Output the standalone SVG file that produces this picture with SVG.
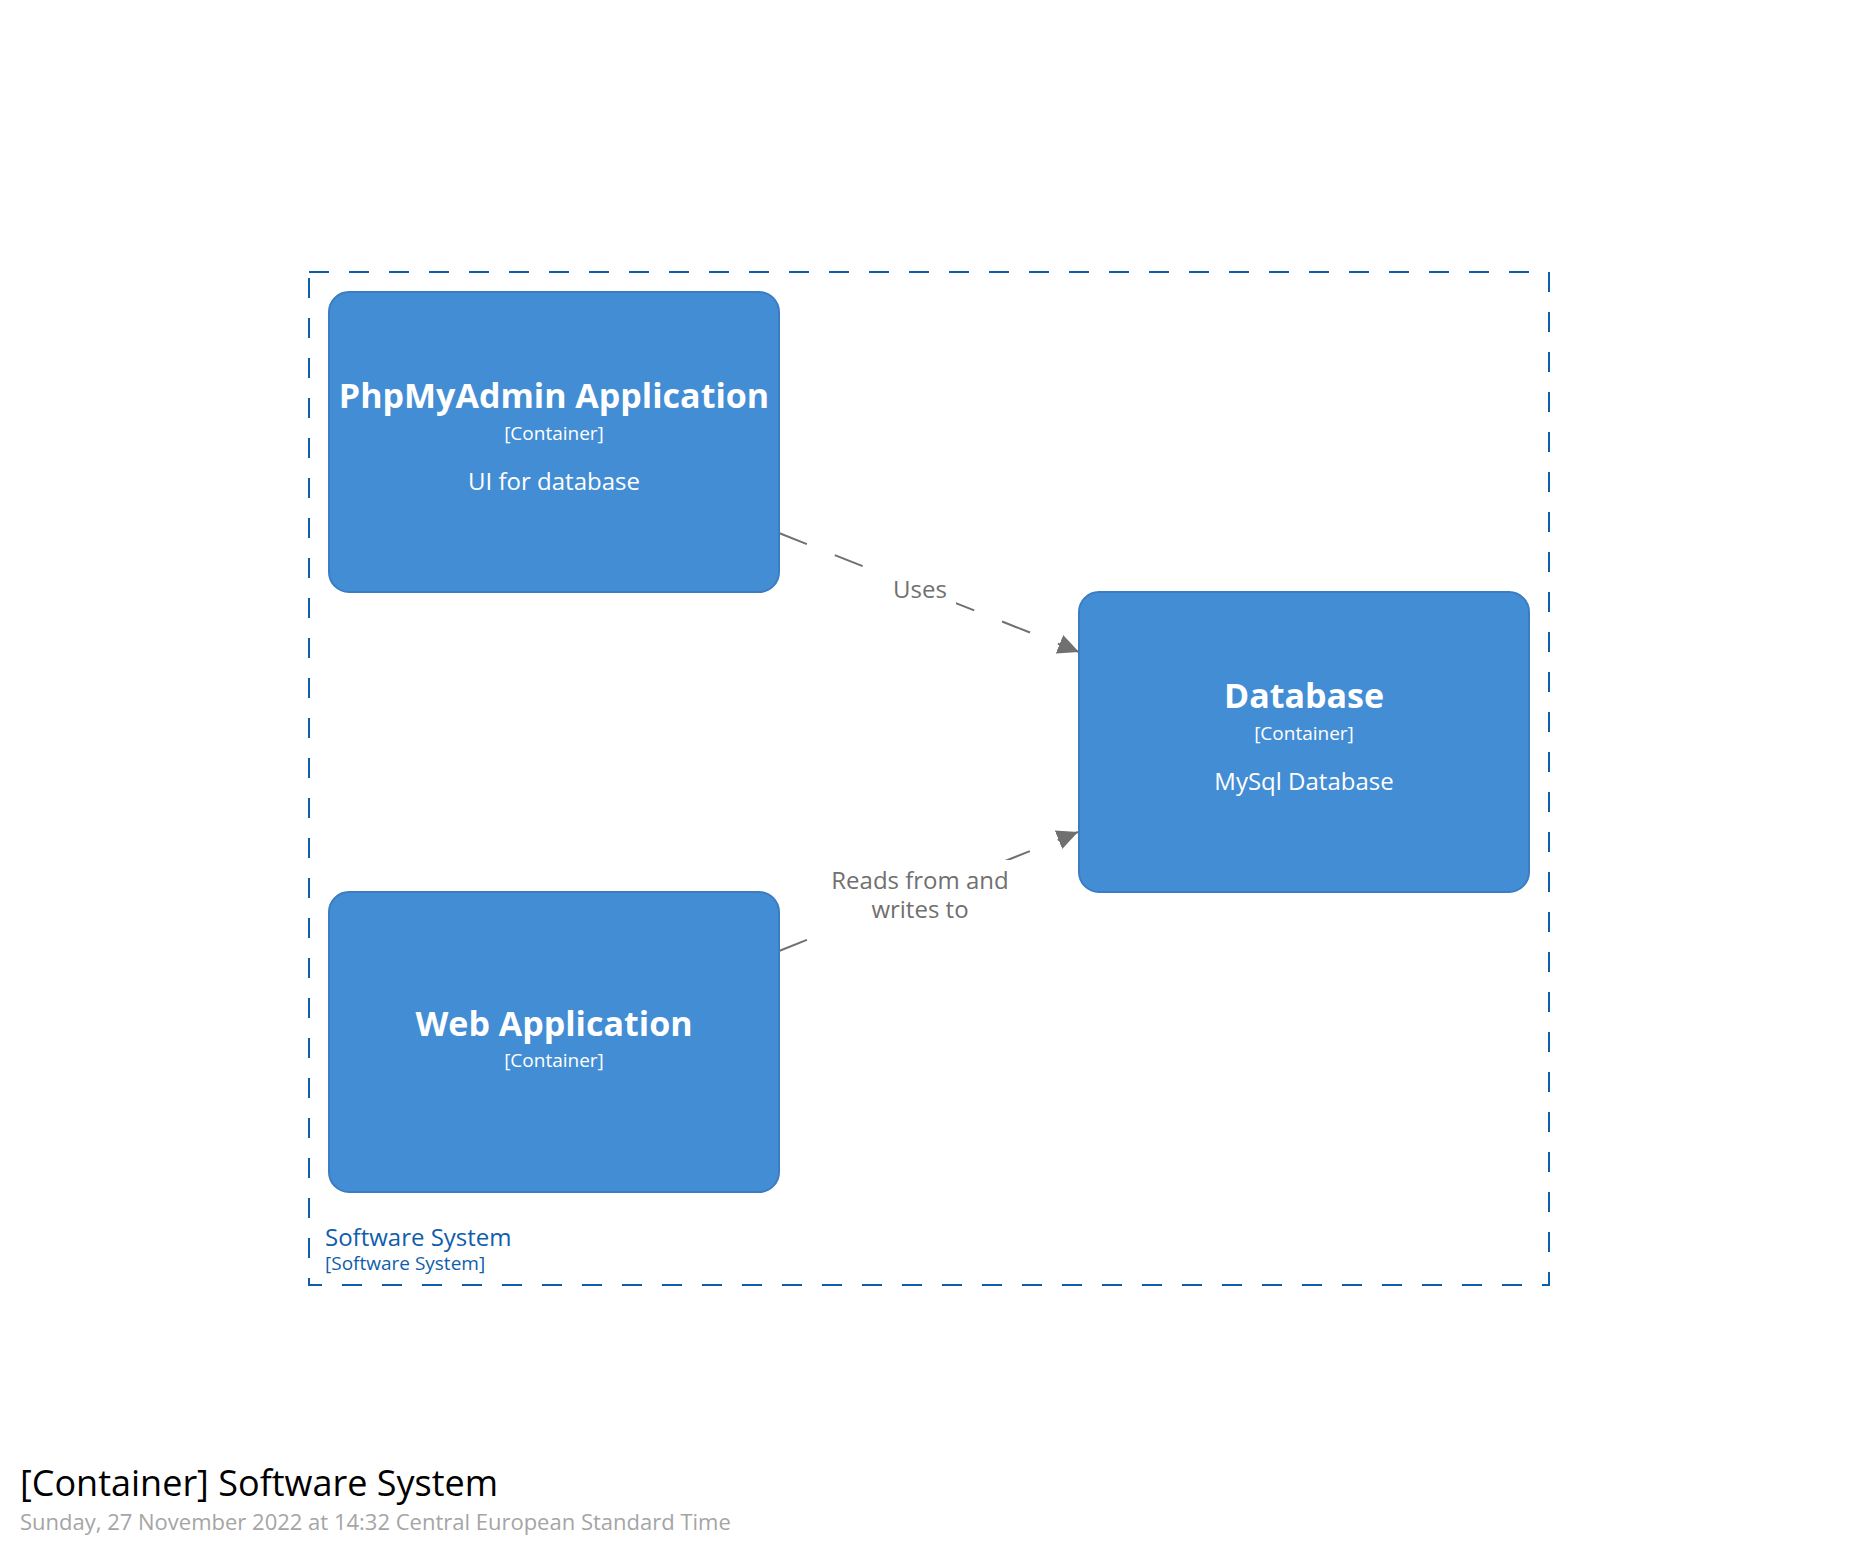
<svg xmlns="http://www.w3.org/2000/svg" width="1858" height="1558" viewBox="0 0 1858 1558">
<defs>
<style>
text{font-family:"Open Sans","DejaVu Sans",sans-serif}
.box{fill:#438dd5;stroke:#3a7dc2;stroke-width:2}
.name{font-size:34px;font-weight:bold;fill:#ffffff;text-anchor:middle}
.meta{font-size:19px;fill:#ffffff;text-anchor:middle}
.desc{font-size:24px;fill:#ffffff;text-anchor:middle}
.rel{fill:none;stroke:#707070;stroke-width:2;stroke-dasharray:30 30}
.rlabel{font-size:24px;fill:#707070;text-anchor:middle}
.bnd{fill:none;stroke:#0f5eaa;stroke-width:2;stroke-dasharray:20 20}
</style>
<marker id="arrow" markerUnits="userSpaceOnUse" markerWidth="22" markerHeight="22" refX="21" refY="10" orient="auto" viewBox="0 0 22 20">
<path d="M0,0 L21,10 L0,20 z" fill="#707070"/>
</marker>
</defs>
<rect x="0" y="0" width="1858" height="1558" fill="#ffffff"/>
<g id="boundary">
<rect class="bnd" x="309" y="272" width="1240" height="1013"/>
<text x="325" y="1246" font-size="24" fill="#0f5eaa">Software System</text>
<text x="325" y="1270" font-size="19" fill="#0f5eaa">[Software System]</text>
</g>
<g id="connectors">
<line class="rel" x1="779" y1="533" x2="1079" y2="652" marker-end="url(#arrow)"/>
<rect x="886" y="574" width="70" height="36" fill="#ffffff"/>
<text class="rlabel" x="920" y="598">Uses</text>
<line class="rel" x1="779" y1="951" x2="1078" y2="832" marker-end="url(#arrow)"/>
<rect x="826" y="860" width="191" height="71" fill="#ffffff"/>
<text class="rlabel" x="920" y="889">Reads from and<tspan x="920" dy="29">writes to</tspan></text>
</g>
<g id="phpmyadmin">
<rect class="box" x="329" y="292" width="450" height="300" rx="20" ry="20"/>
<text class="name" x="554" y="408">PhpMyAdmin Application</text>
<text class="meta" x="554" y="440">[Container]</text>
<text class="desc" x="554" y="490">UI for database</text>
</g>
<g id="database">
<rect class="box" x="1079" y="592" width="450" height="300" rx="20" ry="20"/>
<text class="name" x="1304" y="708">Database</text>
<text class="meta" x="1304" y="740">[Container]</text>
<text class="desc" x="1304" y="790">MySql Database</text>
</g>
<g id="webapp">
<rect class="box" x="329" y="892" width="450" height="300" rx="20" ry="20"/>
<text class="name" x="554" y="1036">Web Application</text>
<text class="meta" x="554" y="1067">[Container]</text>
</g>
<g id="title">
<text x="20" y="1496" font-size="36" fill="#000000">[Container] Software System</text>
<text x="20" y="1530" font-size="22" fill="#a5a5a5">Sunday, 27 November 2022 at 14:32 Central European Standard Time</text>
</g>
</svg>
